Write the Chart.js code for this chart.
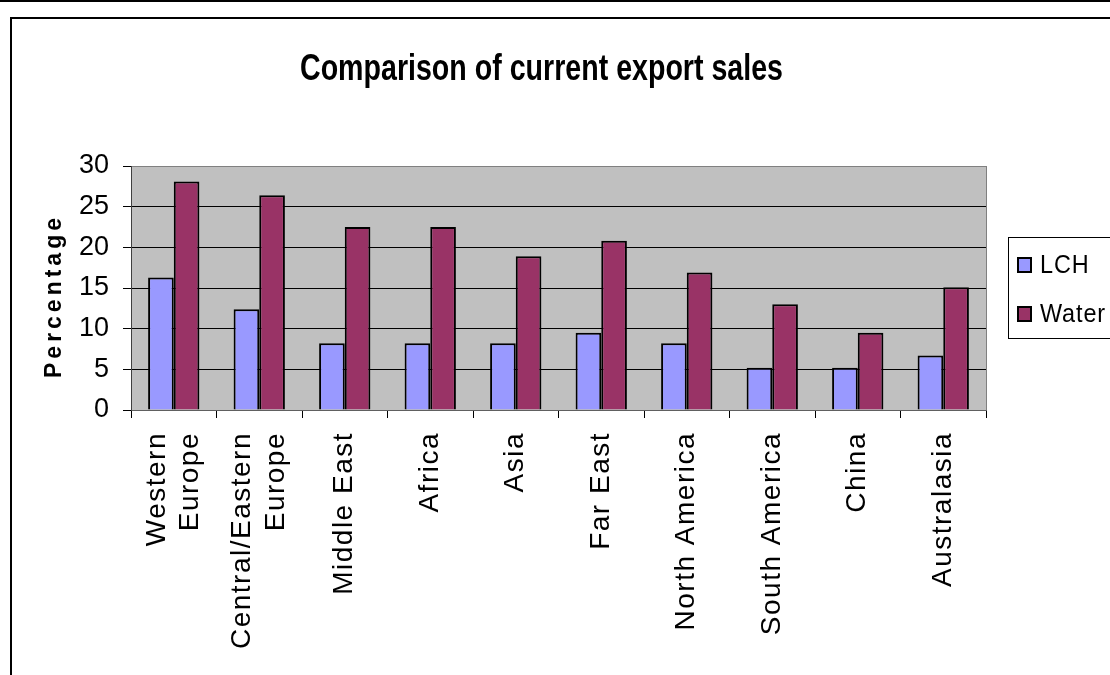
<!DOCTYPE html>
<html>
<head>
<meta charset="utf-8">
<script src="https://cdn.jsdelivr.net/npm/chart.js@4"></script>
<style>
    html, body { margin: 0; padding: 0; background: #fff; overflow: hidden; }
    body { width: 1110px; height: 675px; position: relative; }
    .frame-top { position: absolute; left: 0; top: 0; width: 1110px; height: 0; border-top: 2px solid #000; }
    .frame { position: absolute; left: 10px; top: 17px; width: 1200px; height: 800px; border: 2px solid #000; }
    #chart { position: absolute; left: 0; top: 0; }
</style>
</head>
<body>
<div class="frame-top"></div>
<div class="frame"></div>
<canvas id="chart" width="1110" height="675"></canvas>
<script>
// Chart data
const chartTitle = 'Comparison of current export sales';
const regions = [
    ['Western', 'Europe'],
    ['Central/Eastern', 'Europe'],
    'Middle East',
    'Africa',
    'Asia',
    'Far East',
    'North America',
    'South America',
    'China',
    'Australasia'
];
const lchValues = [16.3, 12.4, 8.2, 8.2, 8.2, 9.5, 8.2, 5.2, 5.2, 6.7];
const waterValues = [28.1, 26.4, 22.5, 22.5, 18.9, 20.8, 16.9, 13.0, 9.5, 15.1];
const yMin = 0;
const yMax = 30;
const yStep = 5;

const FONT = '"Liberation Sans", Arial, sans-serif';
Chart.defaults.font.family = FONT;
Chart.defaults.color = '#000';

// Adds letter spacing (and an optional shift) to one of a scale's draw functions
function spaced(scale, fnName, spacing, dy = 0) {
    if (scale['_sp_' + fnName]) return;
    const orig = scale[fnName];
    scale[fnName] = function (...args) {
        const c = this.ctx;
        c.save();
        c.letterSpacing = spacing;
        c.translate(0, dy);
        orig.apply(this, args);
        c.restore();
    };
    scale['_sp_' + fnName] = true;
}

// Centre two-line rotated labels on their tick (Excel style)
function centerLines(scale) {
    if (scale._centered) return;
    const orig = scale._computeLabelItems;
    scale._computeLabelItems = function (area) {
        const items = orig.call(this, area);
        items.forEach(it => {
            if (Array.isArray(it.label) && it.label.length > 1) {
                it.textOffset -= (it.label.length - 1) * it.font.lineHeight / 2;
            }
        });
        return items;
    };
    scale._labelItems = null;
    scale._centered = true;
}

// Draws text squeezed horizontally (the original uses a narrow font)
function squeezedText(ctx, text, x, y, sx) {
    ctx.save();
    ctx.translate(x, y);
    ctx.scale(sx, 1);
    ctx.fillText(text, 0, 0);
    ctx.restore();
}

// Grey plot background, right border, title and boxed legend
const excelLook = {
    id: 'excelLook',
    afterLayout(chart) {
        spaced(chart.scales.x, 'drawLabels', '1.5px');
        spaced(chart.scales.y, 'drawTitle', '4px', 8);
        centerLines(chart.scales.x);
    },
    beforeDraw(chart) {
        const { ctx, chartArea: a } = chart;
        ctx.save();
        ctx.fillStyle = '#c0c0c0';
        ctx.fillRect(a.left, a.top, a.right - a.left, a.bottom - a.top);
        ctx.restore();
    },
    beforeDatasetsDraw(chart) {
        const { ctx, chartArea: a } = chart;
        ctx.save();
        ctx.strokeStyle = '#808080';
        ctx.lineWidth = 1;
        ctx.beginPath();
        ctx.moveTo(Math.round(a.right) + 0.5, a.top);
        ctx.lineTo(Math.round(a.right) + 0.5, a.bottom);
        ctx.stroke();
        ctx.restore();
    },
    afterDraw(chart) {
        const ctx = chart.ctx;
        ctx.save();
        // title, squeezed to the width of the original
        ctx.fillStyle = '#000';
        ctx.font = 'bold 37px ' + FONT;
        ctx.textAlign = 'center';
        ctx.textBaseline = 'alphabetic';
        const tw = ctx.measureText(chartTitle).width;
        squeezedText(ctx, chartTitle, 541.5, 80, 483 / tw);
        // legend box
        ctx.strokeStyle = '#000';
        ctx.lineWidth = 1;
        ctx.strokeRect(1008.5, 237.5, 200, 101);
        ctx.font = '26px ' + FONT;
        ctx.textAlign = 'left';
        ctx.textBaseline = 'middle';
        ctx.letterSpacing = '1px';
        chart.data.datasets.forEach((ds, i) => {
            const rowY = 265 + i * 49;
            ctx.fillStyle = ds.backgroundColor;
            ctx.fillRect(1018, rowY - 7, 13, 14);
            ctx.lineWidth = 2;
            ctx.strokeRect(1018, rowY - 7, 13, 14);
            ctx.fillStyle = '#000';
            squeezedText(ctx, ds.label, 1040, rowY + 1, 0.9);
        });
        ctx.restore();
    }
};

const ctx = document.getElementById('chart').getContext('2d');
new Chart(ctx, {
    type: 'bar',
    data: {
        labels: regions,
        datasets: [
            {
                label: 'LCH',
                data: lchValues,
                backgroundColor: '#9999ff',
                borderColor: '#000',
                borderWidth: 2,
                categoryPercentage: 0.6,
                barPercentage: 1.0
            },
            {
                label: 'Water',
                data: waterValues,
                backgroundColor: '#993366',
                borderColor: '#000',
                borderWidth: 2,
                categoryPercentage: 0.6,
                barPercentage: 1.0
            }
        ]
    },
    options: {
        responsive: false,
        animation: false,
        devicePixelRatio: 1,
        layout: { padding: { top: 166, left: 12, right: 124, bottom: 0 } },
        plugins: {
            legend: { display: false },
            title: { display: false },
            tooltip: { enabled: false }
        },
        scales: {
            x: {
                grid: {
                    display: true,
                    offset: true,
                    drawOnChartArea: false,
                    drawTicks: true,
                    tickLength: 8,
                    color: '#000',
                    lineWidth: 1
                },
                border: { display: true, color: '#606060', width: 1 },
                ticks: {
                    autoSkip: false,
                    minRotation: 90,
                    maxRotation: 90,
                    padding: 14,
                    color: '#000',
                    font: { size: 28, lineHeight: 1.2 }
                },
                afterFit(scale) { scale.height = 265; }
            },
            y: {
                min: yMin,
                max: yMax,
                grid: {
                    color: c => (c.tick && c.tick.value === yMax ? '#808080' : '#000'),
                    lineWidth: 1,
                    drawTicks: true,
                    tickLength: 8,
                    tickColor: '#000'
                },
                border: { display: true, color: '#404040', width: 1 },
                ticks: {
                    stepSize: yStep,
                    padding: 14,
                    color: '#000',
                    font: { size: 27 }
                },
                title: {
                    display: true,
                    text: 'Percentage',
                    color: '#000',
                    font: { size: 23, weight: 'bold', lineHeight: 1.2 },
                    padding: { top: 29, bottom: 0 }
                },
                afterFit(scale) { scale.width = 119; }
            }
        }
    },
    plugins: [excelLook]
});
</script>
</body>
</html>
